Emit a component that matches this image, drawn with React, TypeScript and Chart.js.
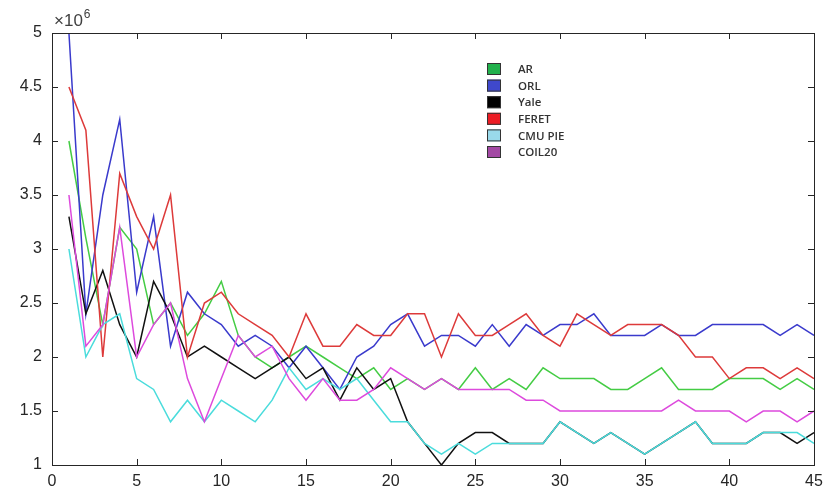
import React, { useEffect, useRef } from "react";
import { Chart, registerables } from "chart.js";

Chart.register(...registerables);

const xs = [1, 2, 3, 4, 5, 6, 7, 8, 9, 10, 11, 12, 13, 14, 15, 16, 17, 18, 19, 20, 21, 22, 23, 24, 25, 26, 27, 28, 29, 30, 31, 32, 33, 34, 35, 36, 37, 38, 39, 40, 41, 42, 43, 44, 45];

const arValues = [4.0, 3.1, 2.3, 3.2, 3.0, 2.3, 2.5, 2.2, 2.4, 2.7, 2.2, 2.0, 1.9, 2.0, 2.1, 2.0, 1.9, 1.8, 1.9, 1.7, 1.8, 1.7, 1.8, 1.7, 1.9, 1.7, 1.8, 1.7, 1.9, 1.8, 1.8, 1.8, 1.7, 1.7, 1.8, 1.9, 1.7, 1.7, 1.7, 1.8, 1.8, 1.8, 1.7, 1.8, 1.7];
const orlValues = [5.0, 2.4, 3.5, 4.2, 2.6, 3.3, 2.1, 2.6, 2.4, 2.3, 2.1, 2.2, 2.1, 1.9, 2.1, 1.9, 1.7, 2.0, 2.1, 2.3, 2.4, 2.1, 2.2, 2.2, 2.1, 2.3, 2.1, 2.3, 2.2, 2.3, 2.3, 2.4, 2.2, 2.2, 2.2, 2.3, 2.2, 2.2, 2.3, 2.3, 2.3, 2.3, 2.2, 2.3, 2.2];
const yaleValues = [3.3, 2.4, 2.8, 2.3, 2.0, 2.7, 2.4, 2.0, 2.1, 2.0, 1.9, 1.8, 1.9, 2.0, 1.8, 1.9, 1.6, 1.9, 1.7, 1.8, 1.4, 1.2, 1.0, 1.2, 1.3, 1.3, 1.2, 1.2, 1.2, 1.4, 1.3, 1.2, 1.3, 1.2, 1.1, 1.2, 1.3, 1.4, 1.2, 1.2, 1.2, 1.3, 1.3, 1.2, 1.3];
const feretValues = [4.5, 4.1, 2.0, 3.7, 3.3, 3.0, 3.5, 2.0, 2.5, 2.6, 2.4, 2.3, 2.2, 2.0, 2.4, 2.1, 2.1, 2.3, 2.2, 2.2, 2.4, 2.4, 2.0, 2.4, 2.2, 2.2, 2.3, 2.4, 2.2, 2.1, 2.4, 2.3, 2.2, 2.3, 2.3, 2.3, 2.2, 2.0, 2.0, 1.8, 1.9, 1.9, 1.8, 1.9, 1.8];
const cmuPieValues = [3.0, 2.0, 2.3, 2.4, 1.8, 1.7, 1.4, 1.6, 1.4, 1.6, 1.5, 1.4, 1.6, 1.9, 1.7, 1.8, 1.7, 1.8, 1.6, 1.4, 1.4, 1.2, 1.1, 1.2, 1.1, 1.2, 1.2, 1.2, 1.2, 1.4, 1.3, 1.2, 1.3, 1.2, 1.1, 1.2, 1.3, 1.4, 1.2, 1.2, 1.2, 1.3, 1.3, 1.3, 1.2];
const coil20Values = [3.5, 2.1, 2.3, 3.2, 2.0, 2.3, 2.5, 1.8, 1.4, 1.8, 2.2, 2.0, 2.1, 1.8, 1.6, 1.8, 1.6, 1.6, 1.7, 1.9, 1.8, 1.7, 1.8, 1.7, 1.7, 1.7, 1.7, 1.6, 1.6, 1.5, 1.5, 1.5, 1.5, 1.5, 1.5, 1.5, 1.6, 1.5, 1.5, 1.5, 1.4, 1.5, 1.5, 1.4, 1.5];

const seriesNames = ["AR", "ORL", "Yale", "FERET", "CMU PIE", "COIL20"];
const seriesData = [arValues, orlValues, yaleValues, feretValues, cmuPieValues, coil20Values];
const lineColors = ["#44cc44", "#3a3acc", "#111111", "#dd3a3a", "#4adcdc", "#dd4add"];
const legendColors = ["#22b14c", "#3f48cc", "#000000", "#ed1c24", "#99d9ea", "#a349a4"];

const xTickMin = 0;
const xTickMax = 45;
const xTickStep = 5;
const yTickMin = 1;
const yTickMax = 5;
const yTickStep = 0.5;
const exponentText = "×10";
const exponentPower = "6";

const decorPlugin = {
  id: "decor",
  afterDraw(chart: any) {
    const { ctx, chartArea, scales } = chart;
    const { left, right, top, bottom } = chartArea;
    const x = scales.x;
    const y = scales.y;
    ctx.save();
    ctx.strokeStyle = "#262626";
    ctx.lineWidth = 1;
    ctx.strokeRect(Math.round(left) + 0.5, Math.round(top) + 0.5, Math.round(right - left), Math.round(bottom - top));
    const tl = 6;
    ctx.beginPath();
    x.ticks.forEach((t: any) => {
      const px = Math.round(x.getPixelForValue(t.value)) + 0.5;
      ctx.moveTo(px, bottom);
      ctx.lineTo(px, bottom - tl);
      ctx.moveTo(px, top);
      ctx.lineTo(px, top + tl);
    });
    y.ticks.forEach((t: any) => {
      const py = Math.round(y.getPixelForValue(t.value)) + 0.5;
      ctx.moveTo(left, py);
      ctx.lineTo(left + tl, py);
      ctx.moveTo(right, py);
      ctx.lineTo(right - tl, py);
    });
    ctx.stroke();

    // exponent label
    ctx.fillStyle = "#404040";
    ctx.textBaseline = "alphabetic";
    ctx.textAlign = "left";
    ctx.font = "17px 'Liberation Sans', Arial, sans-serif";
    ctx.fillText(exponentText, left + 2, top - 7);
    const w = ctx.measureText(exponentText).width;
    ctx.font = "12px 'Liberation Sans', Arial, sans-serif";
    ctx.fillText(exponentPower, left + 2 + w + 1, top - 15);

    // legend
    const lx = left + 435;
    const ly0 = top + 36;
    const dy = 16.6;
    ctx.font = "600 11.5px 'Open Sans', sans-serif";
    seriesNames.forEach((name, i) => {
      const cy = ly0 + i * dy;
      ctx.fillStyle = legendColors[i];
      ctx.fillRect(lx, cy - 6, 14, 12);
      ctx.strokeStyle = "#333333";
      ctx.lineWidth = 1;
      ctx.strokeRect(lx + 0.5, cy - 5.5, 13, 11);
      ctx.fillStyle = "#333333";
      ctx.textBaseline = "middle";
      ctx.fillText(name, lx + 31, cy + 1);
    });
    ctx.restore();
  },
};

export default function App() {
  const ref = useRef<HTMLCanvasElement | null>(null);
  useEffect(() => {
    if (!ref.current) return;
    const datasets = seriesNames.map((name, i) => ({
      label: name,
      data: xs.map((xv, j) => ({ x: xv, y: seriesData[i][j] })),
      borderColor: lineColors[i],
      backgroundColor: lineColors[i],
      borderWidth: 1.5,
      pointRadius: 0,
      tension: 0,
      fill: false,
      order: seriesNames.length - i,
    }));
    const chart = new Chart(ref.current, {
      type: "line",
      data: { datasets },
      options: {
        animation: false,
        responsive: false,
        maintainAspectRatio: false,
        layout: { padding: { left: 0, right: 18, top: 33, bottom: 0 } },
        plugins: { legend: { display: false }, tooltip: { enabled: false } },
        scales: {
          x: {
            type: "linear",
            min: xTickMin,
            max: xTickMax,
            grid: { display: false, drawTicks: false },
            border: { display: true, color: "#262626" },
            ticks: {
              stepSize: xTickStep,
              padding: 7,
              color: "#262626",
              font: { size: 16, family: "'Liberation Sans', Arial, sans-serif" },
              maxRotation: 0,
              callback: (v: any) => String(Number(v)),
            },
            afterFit: (s: any) => {
              s.height = 32;
            },
          },
          y: {
            type: "linear",
            min: yTickMin,
            max: yTickMax,
            grid: { display: false, drawTicks: false },
            border: { display: true, color: "#262626" },
            ticks: {
              stepSize: yTickStep,
              padding: 10,
              color: "#262626",
              font: { size: 16, family: "'Liberation Sans', Arial, sans-serif" },
              callback: (v: any) => String(Number(v)),
            },
            afterFit: (s: any) => {
              s.width = 52;
            },
          },
        },
      },
      plugins: [decorPlugin],
    });
    return () => chart.destroy();
  }, []);
  return (
    <div style={{ position: "absolute", left: 0, top: 0, width: 832, height: 497, background: "#fff" }}>
      <canvas ref={ref} width={832} height={497} style={{ display: "block" }} />
    </div>
  );
}
